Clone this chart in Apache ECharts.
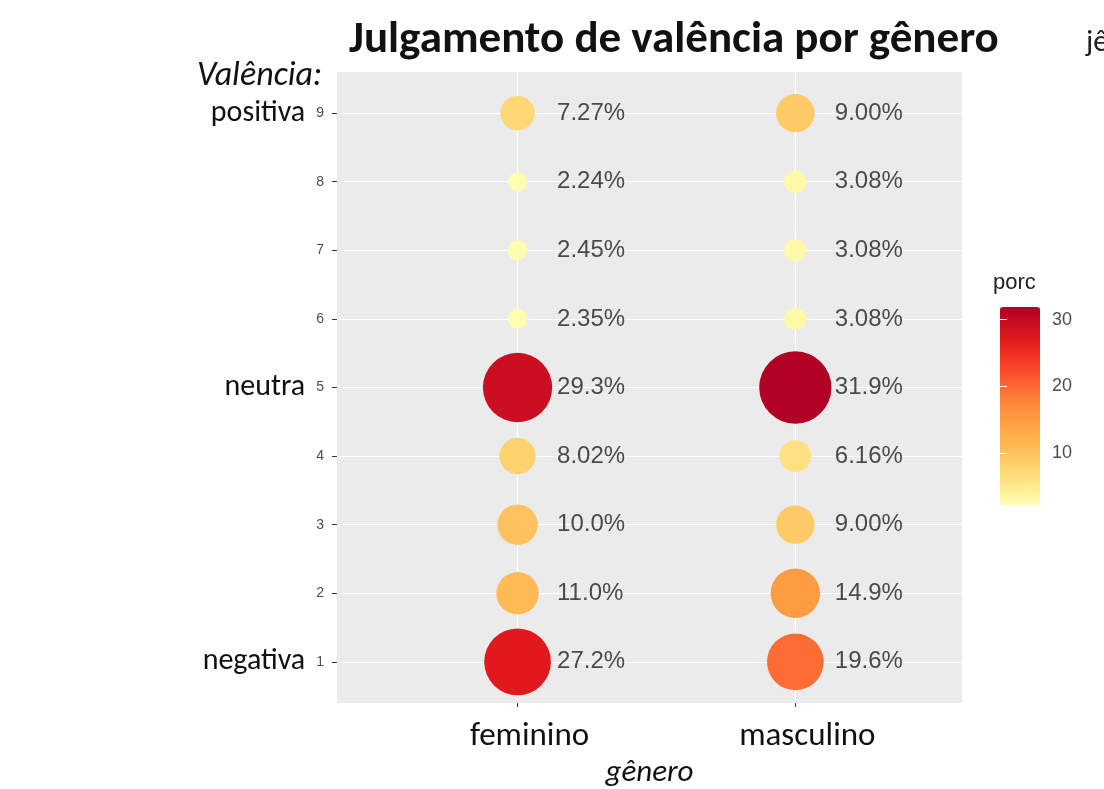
<!DOCTYPE html>
<html>
<head>
<meta charset="utf-8">
<script src="https://cdn.jsdelivr.net/npm/echarts@6/dist/echarts.min.js"></script>
<style>html,body{margin:0;padding:0;background:#fff}#c{width:1104px;height:789px}</style>
</head>
<body>
<div id="c"></div>
<script>
// ---- data ----
const genders = ['feminino', 'masculino'];
const valence = [1, 2, 3, 4, 5, 6, 7, 8, 9];
const valenceNames = {9: 'positiva', 5: 'neutra', 1: 'negativa'};
const feminino  = [27.2, 11.0, 10.0, 8.02, 29.3, 2.35, 2.45, 2.24, 7.27];
const masculino = [19.6, 14.9, 9.00, 6.16, 31.9, 3.08, 3.08, 3.08, 9.00];
const legendTicks = [10, 20, 30];
const palette = ['#FFFFB2', '#FED976', '#FEB24C', '#FD8D3C', '#FC4E2A', '#E31A1C', '#B10026'];

const points = [];
[feminino, masculino].forEach((arr, gi) => {
  arr.forEach((v, i) => points.push([gi + 1, valence[i], v]));
});
const all = feminino.concat(masculino);
const vMin = Math.min(...all), vMax = Math.max(...all);

const chart = echarts.init(document.getElementById('c'));
const calibri = 'Carlito, Lato, "Open Sans", sans-serif';
const arial = '"Liberation Sans", Arial, sans-serif';
chart.setOption({
  backgroundColor: '#ffffff',
  animation: false,
  title: {
    text: 'Julgamento de valência por gênero',
    left: 344, top: 13,
    textStyle: {fontFamily: calibri, fontWeight: 'bold', fontSize: 45, color: '#111'}
  },
  grid: [
    {left: 337, top: 72, width: 625, height: 631, show: true, backgroundColor: '#EBEBEB', borderWidth: 0,
     containLabel: false, outerBoundsMode: 'none'},
    {left: 1000, top: 307, width: 40, height: 198, show: false, containLabel: false, outerBoundsMode: 'none'}
  ],
  xAxis: [
    {
      type: 'value', gridIndex: 0, min: 0.35, max: 2.6,
      axisLine: {show: false},
      axisTick: {show: true, length: 4, lineStyle: {color: '#333'}, customValues: [1, 2]},
      axisLabel: {customValues: [1, 2], formatter: v => genders[Math.round(v) - 1] || '',
        fontFamily: calibri, fontSize: 33, color: '#111', margin: 17, padding: [0, 0, 0, 24]},
      splitLine: {show: true, lineStyle: {color: '#fff', width: 1.2}},
      name: 'gênero', nameLocation: 'middle', nameGap: 53,
      nameTextStyle: {fontFamily: calibri, fontStyle: 'italic', fontSize: 31, color: '#111'}
    },
    {type: 'value', gridIndex: 1, show: false, min: 0, max: 1}
  ],
  yAxis: [
    {
      type: 'value', gridIndex: 0, min: 0.4, max: 9.6,
      axisLine: {show: false},
      axisTick: {show: true, length: 5, lineStyle: {color: '#333'}, customValues: valence},
      axisLabel: {
        customValues: valence, margin: 13,
        formatter: v => valenceNames[v] ? '{big|' + valenceNames[v] + '}{num|' + v + '}' : '{num|' + v + '}',
        rich: {
          big: {fontFamily: calibri, fontSize: 30, color: '#111', padding: [0, 11, 0, 0]},
          num: {fontFamily: arial, fontSize: 14, color: '#4D4D4D'}
        }
      },
      splitLine: {show: true, lineStyle: {color: '#fff', width: 1.2}}
    },
    {
      type: 'value', gridIndex: 1, min: vMin, max: vMax, position: 'right', z: 10,
      axisLine: {show: false},
      axisTick: {show: true, inside: true, length: 7, lineStyle: {color: '#fff', width: 1}, customValues: legendTicks},
      axisLabel: {customValues: legendTicks, fontFamily: arial, fontSize: 18, color: '#4D4D4D', margin: 12},
      splitLine: {show: false}
    },
    {
      type: 'value', gridIndex: 1, min: vMin, max: vMax, position: 'left', z: 10,
      axisLine: {show: false},
      axisTick: {show: true, inside: true, length: 7, lineStyle: {color: '#fff', width: 1}, customValues: legendTicks},
      axisLabel: {show: false},
      splitLine: {show: false}
    }
  ],
  visualMap: {
    type: 'continuous', seriesIndex: 0, dimension: 2,
    min: vMin, max: vMax, calculable: false,
    left: 1000, top: 307, itemWidth: 40, itemHeight: 198, padding: 0,
    inRange: {color: palette}, text: null, showLabel: false
  },
  graphic: [
    {type: 'text', left: 197, top: 59, style: {text: 'Valência:', fontFamily: calibri, fontStyle: 'italic', fontSize: 34, fill: '#111'}},
    {type: 'text', left: 993, top: 272, style: {text: 'porc', fontFamily: arial, fontSize: 22, fill: '#222'}},
    {type: 'text', left: 1086, top: 28, style: {text: 'jê', fontFamily: calibri, fontSize: 30, fill: '#222'}}
  ],
  series: [
    {
      type: 'scatter', xAxisIndex: 0, yAxisIndex: 0,
      data: points,
      symbolSize: d => 12.8 * Math.sqrt(d[2]),
      itemStyle: {opacity: 1}
    },
    {
      type: 'scatter', xAxisIndex: 0, yAxisIndex: 0,
      data: points, symbolSize: 1,
      itemStyle: {color: 'rgba(0,0,0,0)'},
      label: {show: true, position: 'right', distance: 39,
        formatter: p => p.value[2].toPrecision(3) + '%',
        fontFamily: arial, fontSize: 24, color: '#222'}
    }
  ]
});
</script>
</body>
</html>
